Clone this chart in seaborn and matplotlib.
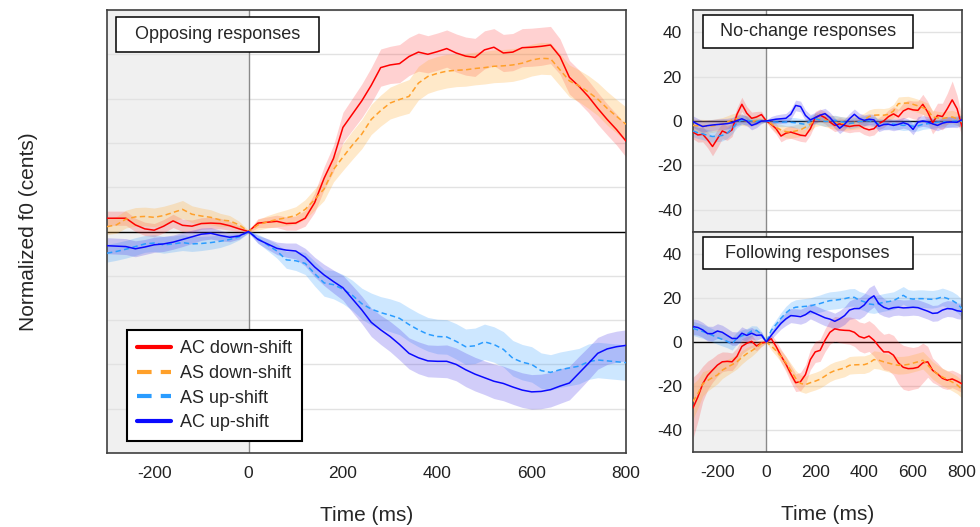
import matplotlib
matplotlib.use("Agg")
import matplotlib.pyplot as plt
from matplotlib.patches import Rectangle
from matplotlib.ticker import MultipleLocator
import seaborn as sns

sns.set_theme(style="white")
plt.rcParams['font.family'] = ['Liberation Sans', 'DejaVu Sans']
plt.rcParams['axes.unicode_minus'] = False

# Time axis (ms), one value every 20 ms
time_ms = list(range(-300, 801, 20))

# ---- Opposing responses ----
opp_ac_down = [3.0, 3.0, 3.0, 1.5, 0.6, 0.3, 1.2, 2.4, 1.4, 1.2, 1.8, 1.9, 1.8, 1.3, 0.6,
               0.0,
               1.9, 2.1, 2.3, 1.8, 1.9, 3.0, 6.5, 12.0, 16.5, 23.5, 26.5, 29.5, 33.0, 37.0, 37.6,
               37.9, 39.5, 40.5, 40.0, 40.6, 41.3, 40.3, 39.6, 39.3, 41.0, 41.6, 40.3, 40.5, 41.5,
               41.6, 41.8, 42.1, 39.5, 34.8, 32.8, 30.5, 27.8, 25.3, 23.0, 20.4]
opp_as_down = [1.1, 1.5, 2.8, 3.3, 3.4, 3.2, 3.6, 4.3, 5.0, 3.9, 3.5, 3.2, 2.6, 2.4, 1.5,
               0.0,
               1.5, 2.2, 2.7, 3.1, 3.6, 5.0, 7.2, 9.6, 14.0, 16.8, 19.5, 22.0, 25.3, 27.3, 29.0,
               29.8, 30.5, 33.5, 35.0, 35.7, 36.2, 36.4, 36.5, 36.8, 37.0, 37.3, 37.4, 37.6, 38.0,
               38.7, 39.1, 39.0, 36.5, 34.0, 32.9, 31.5, 29.9, 27.8, 26.0, 24.2]
opp_as_up = [-4.9, -4.5, -4.0, -3.4, -2.8, -2.6, -3.0, -2.8, -2.5, -2.8, -2.7, -2.5, -2.2, -1.8, -1.2,
             0.0,
             -1.6, -3.0, -4.4, -6.4, -6.6, -7.2, -9.5, -11.6, -12.0, -13.0, -14.4, -16.3, -17.5, -18.3,
             -18.9, -19.6, -21.0, -22.2, -23.2, -23.7, -23.8, -24.8, -26.0, -25.8, -24.9, -25.5, -26.6,
             -28.6, -29.5, -30.0, -31.4, -31.8, -31.2, -30.8, -30.4, -29.4, -29.0, -29.2, -29.4, -29.6]
opp_ac_up = [-3.2, -3.3, -3.4, -3.9, -3.5, -3.0, -2.8, -2.4, -1.8, -1.2, -0.6, -0.4, -0.9, -1.3, -1.0,
             0.0,
             -1.8, -2.8, -3.8, -4.2, -4.4, -5.8, -8.0, -9.8, -11.3, -12.7, -15.2, -17.7, -20.5, -22.2,
             -23.7, -25.5, -27.5, -28.5, -29.2, -29.3, -29.3, -30.0, -31.2, -32.2, -33.0, -33.8, -34.3,
             -35.1, -35.8, -36.2, -36.1, -35.7, -34.9, -34.2, -32.0, -29.8, -27.5, -26.5, -26.0, -25.7]

opp_ac_down_sem = [1.6, 1.6, 1.6, 1.5, 1.5, 1.5, 1.5, 1.5, 1.4, 1.4, 1.3, 1.3, 1.2, 1.0, 0.7,
                   0.3,
                   1.0, 1.2, 1.4, 1.5, 1.6, 1.8, 2.2, 2.6, 3.0, 3.4, 3.6, 3.8, 4.0, 4.2, 4.2,
                   4.3, 4.3, 4.3, 4.2, 4.2, 4.2, 4.3, 4.3, 4.3, 4.3, 4.2, 4.2, 4.2, 4.3, 4.3, 4.3, 4.2,
                   4.0, 3.8, 3.7, 3.6, 3.6, 3.5, 3.5, 3.6]
opp_as_down_sem = [1.8, 1.9, 2.0, 2.1, 2.1, 2.1, 2.1, 2.0, 2.0, 1.9, 1.8, 1.7, 1.5, 1.2, 0.8,
                   0.3,
                   1.2, 1.4, 1.6, 1.8, 2.0, 2.2, 2.4, 2.6, 2.8, 3.0, 3.2, 3.3, 3.4, 3.5, 3.6,
                   3.7, 3.8, 3.8, 3.8, 3.8, 3.8, 3.7, 3.7, 3.7, 3.7, 3.7, 3.7, 3.7, 3.6, 3.6, 3.6, 3.6,
                   3.6, 3.6, 3.6, 3.7, 3.7, 3.8, 3.8, 3.9]
opp_as_up_sem = [2.0, 2.0, 2.0, 2.0, 1.9, 1.9, 1.9, 1.8, 1.8, 1.7, 1.6, 1.5, 1.4, 1.1, 0.7,
                 0.3,
                 1.0, 1.3, 1.6, 1.9, 2.2, 2.5, 2.8, 3.0, 3.2, 3.3, 3.4, 3.5, 3.6, 3.6, 3.7,
                 3.7, 3.8, 3.8, 3.8, 3.9, 3.9, 4.0, 4.0, 4.0, 4.0, 4.0, 4.0, 4.0, 4.0, 4.0, 4.0, 4.0,
                 4.0, 4.0, 4.0, 4.0, 4.0, 4.0, 4.0, 4.0]
opp_ac_up_sem = [1.8, 1.8, 1.8, 1.8, 1.7, 1.7, 1.7, 1.6, 1.6, 1.5, 1.4, 1.3, 1.2, 1.0, 0.7,
                 0.3,
                 0.9, 1.2, 1.4, 1.6, 1.8, 2.0, 2.2, 2.4, 2.6, 2.8, 3.0, 3.1, 3.2, 3.3, 3.4,
                 3.5, 3.5, 3.6, 3.6, 3.6, 3.7, 3.7, 3.8, 3.8, 3.8, 3.9, 3.9, 3.9, 3.9, 3.9, 3.9, 3.9,
                 3.9, 3.8, 3.8, 3.7, 3.6, 3.5, 3.5, 3.5]

# ---- No-change responses ----
nc_ac_down = [-5.0, -6.3, -6.0, -8.5, -11.5, -8.0, -4.5, -5.5, -4.0, 3.0, 7.5, 3.5, 1.2, 1.8, 2.9,
              0.0,
              -1.5, -3.5, -6.8, -5.5, -5.0, -5.7, -6.4, -6.7, -3.5, 1.5, 2.6, 1.5, -0.5, -2.0, -1.3,
              -2.0, -2.5, -2.1, -2.0, -3.3, -4.0, -3.5, -1.2, 0.0, 2.0, 3.2, 1.9, 4.5, 5.6, 5.0,
              4.8, 7.5, 4.0, -0.8, 2.5, 2.0, 5.5, 9.5, 5.5, -2.5]
nc_as_down = [-2.0, -2.2, -2.3, -2.4, -2.2, -1.8, -1.3, -0.5, 0.5, 1.0, 0.5, 0.0, -0.3, 0.2, 0.3,
              0.0,
              -1.2, -3.0, -4.0, -4.8, -5.0, -4.5, -4.0, -2.8, -1.5, 0.5, 1.0, 0.5, -0.3, -0.6, -1.0,
              -1.2, -1.0, -0.7, -0.5, 0.5, 2.0, 2.6, 2.7, 2.6, 3.0, 4.5, 7.8, 8.0, 8.1, 7.5,
              6.8, 6.0, 5.0, 1.8, 1.4, 1.1, 1.5, 1.8, 1.0, -0.5]
nc_as_up = [-4.5, -5.3, -5.8, -6.5, -7.0, -6.8, -6.5, -5.5, -3.5, -0.8, 0.5, 0.3, 0.0, -0.2, 0.1,
            0.0,
            -0.3, -0.5, -0.6, -0.4, -0.6, -0.8, -1.2, -1.5, 0.2, 1.0, 0.5, -0.2, 0.0, 0.3, -0.2,
            -0.6, -1.1, -0.8, -0.3, 0.0, 0.2, -0.5, -1.2, -1.5, -1.3, -1.4, -1.6, -2.0, -1.8, -2.4,
            -2.2, -1.5, -1.2, -1.0, -0.6, -0.3, -0.5, -0.2, 0.0, 0.0]
nc_ac_up = [-0.3, -1.5, -2.5, -2.1, -1.8, -1.6, -1.4, -1.2, -0.8, 0.2, 1.0, 0.0, -2.0, -1.2, 0.0,
            0.0,
            0.4, 0.8, 1.0, 1.2, 3.0, 7.0, 6.5, 2.5, 0.5, 1.5, 2.6, 3.3, 1.5, -1.0, -3.3,
            -1.5, 1.0, 3.0, 1.1, 0.3, 0.8, 0.5, -2.4, -1.6, -1.5, -2.0, -1.5, -0.8, -1.5, -3.8,
            -0.5, 0.0, -0.4, -1.3, -2.0, -1.0, -0.5, -0.5, -0.6, 0.6]

nc_ac_down_sem = [3.0, 3.2, 3.4, 3.6, 4.2, 4.0, 3.5, 3.2, 3.0, 3.0, 3.2, 3.0, 2.8, 2.5, 1.5,
                  0.5,
                  2.0, 2.4, 2.6, 2.7, 2.8, 2.8, 2.8, 2.8, 2.8, 2.8, 2.8, 2.8, 2.8, 2.8, 2.8,
                  2.8, 2.8, 2.8, 2.8, 2.8, 2.8, 2.8, 2.8, 2.9, 3.0, 3.2, 3.4, 3.6, 3.8, 4.0, 4.2, 4.5,
                  4.8, 5.0, 5.5, 6.0, 7.0, 8.5, 6.0, 4.0]
nc_as_down_sem = [3.0, 3.0, 3.0, 3.0, 2.9, 2.9, 2.8, 2.8, 2.7, 2.6, 2.5, 2.3, 2.1, 1.8, 1.2,
                  0.4,
                  1.8, 2.2, 2.5, 2.7, 2.8, 2.9, 3.0, 3.0, 3.0, 3.0, 3.0, 3.0, 3.0, 3.0, 3.0,
                  3.0, 3.0, 3.0, 3.0, 3.0, 3.0, 3.0, 3.0, 3.0, 3.0, 3.0, 3.0, 3.0, 3.0, 3.0, 3.0, 3.0,
                  3.0, 3.0, 3.0, 3.0, 3.0, 3.0, 3.0, 3.0]
nc_as_up_sem = [2.6, 2.6, 2.6, 2.6, 2.6, 2.5, 2.5, 2.4, 2.3, 2.2, 2.1, 2.0, 1.8, 1.5, 1.0,
                0.4,
                1.5, 1.8, 2.0, 2.1, 2.2, 2.3, 2.3, 2.3, 2.3, 2.3, 2.3, 2.3, 2.3, 2.3, 2.3,
                2.3, 2.3, 2.3, 2.3, 2.3, 2.3, 2.3, 2.3, 2.3, 2.3, 2.3, 2.3, 2.3, 2.3, 2.3, 2.3, 2.3,
                2.3, 2.3, 2.3, 2.3, 2.3, 2.3, 2.3, 2.3]
nc_ac_up_sem = [2.6, 2.6, 2.6, 2.5, 2.5, 2.5, 2.5, 2.4, 2.4, 2.3, 2.2, 2.1, 2.0, 1.8, 1.2,
                0.4,
                1.6, 1.9, 2.1, 2.2, 2.3, 2.4, 2.4, 2.4, 2.4, 2.4, 2.4, 2.4, 2.4, 2.4, 2.4,
                2.4, 2.4, 2.4, 2.4, 2.4, 2.4, 2.4, 2.4, 2.4, 2.4, 2.4, 2.4, 2.4, 2.4, 2.4, 2.4, 2.4,
                2.4, 2.4, 2.4, 2.4, 2.4, 2.4, 2.4, 2.4]

# ---- Following responses ----
fol_ac_down = [-30.0, -25.0, -19.0, -15.2, -12.8, -10.5, -9.0, -8.8, -9.0, -6.5, -2.0, -0.6, 0.3, -1.8, -0.5,
               0.0,
               1.5, -2.0, -6.3, -10.0, -14.5, -18.5, -18.0, -14.8, -8.0, -4.5, -3.8, 0.8, 4.4, 6.0, 5.5,
               5.3, 5.2, 4.4, 2.5, 1.8, 2.7, 0.8, -2.0, -4.5, -4.5, -6.0, -9.5, -11.5, -12.1, -12.0,
               -11.5, -9.5, -9.0, -12.9, -14.5, -16.5, -17.4, -16.8, -17.8, -19.0]
fol_as_down = [-27.0, -23.5, -19.0, -17.5, -16.2, -15.0, -12.8, -11.5, -10.3, -9.0, -7.0, -5.3, -4.0, -2.5, -0.7,
               0.0,
               -1.8, -4.0, -6.5, -9.5, -13.0, -16.5, -18.8, -19.4, -18.5, -17.8, -16.9, -15.5, -14.0, -13.0,
               -12.4, -11.8, -10.6, -10.4, -10.3, -10.3, -9.6, -8.0, -8.3, -9.0, -9.6, -10.2, -10.6, -10.5,
               -10.2, -9.6, -9.0, -8.3, -10.5, -12.9, -14.5, -15.9, -17.0, -18.2, -19.5, -21.5]
fol_as_up = [6.2, 5.5, 4.8, 4.0, 3.0, 2.0, 1.2, 0.3, -0.8, 1.8, 2.8, 3.5, 5.0, 5.3, 3.5,
             0.0,
             5.3, 8.0, 10.8, 13.2, 15.0, 15.8, 16.0, 16.2, 16.4, 17.0, 17.5, 18.2, 18.8, 19.0, 19.3,
             19.7, 20.2, 20.3, 19.0, 18.3, 17.3, 17.0, 17.5, 18.0, 18.4, 18.8, 20.0, 21.2, 19.8, 19.5,
             19.7, 19.7, 19.5, 19.4, 19.8, 20.5, 19.8, 18.9, 17.5, 15.2]
fol_ac_up = [7.0, 6.6, 5.5, 3.8, 3.8, 5.0, 4.4, 3.0, 1.6, 1.6, 4.0, 3.0, 4.0, 3.0, 3.2,
             0.0,
             3.0, 5.8, 8.5, 10.5, 12.0, 11.8, 11.5, 12.4, 14.0, 13.0, 12.0, 11.0, 10.4, 9.4, 10.5,
             12.0, 14.5, 15.2, 15.2, 16.8, 19.5, 21.0, 17.4, 15.8, 15.0, 15.6, 15.8, 15.5, 15.6, 15.8,
             15.6, 14.8, 14.0, 13.0, 13.2, 14.5, 15.2, 15.0, 14.2, 13.9]

fol_ac_down_sem = [14.0, 11.0, 8.0, 6.5, 5.5, 5.0, 4.5, 4.2, 4.0, 3.8, 3.5, 3.2, 2.8, 2.2, 1.5,
                   0.5,
                   2.0, 2.5, 3.0, 3.4, 3.8, 4.0, 4.2, 4.4, 4.6, 4.8, 5.0, 5.2, 5.4, 5.6, 5.8,
                   6.0, 6.2, 6.4, 6.6, 6.8, 7.0, 7.2, 7.5, 8.0, 8.5, 9.0, 9.5, 10.0, 10.0, 9.5, 9.5, 9.0,
                   7.0, 5.5, 5.0, 4.5, 4.2, 4.0, 4.0, 4.0]
fol_as_down_sem = [8.0, 6.5, 5.5, 4.8, 4.4, 4.0, 3.8, 3.6, 3.4, 3.2, 3.0, 2.8, 2.5, 2.0, 1.3,
                   0.4,
                   1.8, 2.2, 2.6, 3.0, 3.3, 3.6, 3.8, 3.9, 4.0, 4.0, 4.0, 4.0, 4.0, 4.0, 4.0,
                   4.0, 4.0, 4.0, 4.0, 4.0, 4.0, 4.0, 4.0, 4.0, 4.0, 4.0, 4.0, 4.0, 4.0, 4.0, 4.0, 4.0,
                   4.0, 4.0, 4.0, 4.0, 4.0, 4.0, 4.0, 4.0]
fol_as_up_sem = [3.2, 3.2, 3.1, 3.1, 3.0, 3.0, 3.0, 2.9, 2.9, 2.8, 2.7, 2.6, 2.4, 2.0, 1.3,
                 0.4,
                 1.8, 2.2, 2.6, 3.0, 3.2, 3.4, 3.5, 3.6, 3.7, 3.8, 3.9, 4.0, 4.0, 4.0, 4.0,
                 4.0, 4.0, 4.0, 4.0, 4.0, 4.0, 4.0, 4.0, 4.0, 4.0, 4.0, 4.0, 4.0, 4.0, 4.0, 4.0, 4.0,
                 4.0, 4.0, 4.0, 4.0, 4.0, 4.0, 4.0, 4.0]
fol_ac_up_sem = [3.5, 3.5, 3.4, 3.4, 3.3, 3.3, 3.2, 3.2, 3.1, 3.0, 2.9, 2.8, 2.6, 2.2, 1.4,
                 0.4,
                 1.8, 2.2, 2.6, 3.0, 3.2, 3.3, 3.4, 3.5, 3.5, 3.5, 3.6, 3.6, 3.6, 3.7, 3.8,
                 4.0, 4.2, 4.5, 4.8, 5.0, 5.2, 5.0, 4.5, 4.0, 3.8, 3.6, 3.6, 3.6, 3.6, 3.6, 3.6, 3.6,
                 3.6, 3.6, 3.6, 3.6, 3.6, 3.6, 3.6, 3.6]

labels = ["AC down-shift", "AS down-shift", "AS up-shift", "AC up-shift"]
line_colors = ["#ff0000", "#ffa02a", "#2a9cff", "#0a0aff"]
band_colors = ["#ff3030", "#ffb040", "#3aa0ff", "#4a3ae8"]
band_alpha = [0.22, 0.28, 0.25, 0.25]
dashed = [False, True, True, False]


def draw_panel(ax, series, sems, title, with_legend=False):
    ax.axvspan(-300, 0, color="#f0f0f0", zorder=0.2, lw=0)
    ax.axvline(0, color="#8a8a8a", lw=1.0, zorder=1)
    ax.axhline(0, color="black", lw=1.0, zorder=1)
    for i in range(4):
        lo = [m - s for m, s in zip(series[i], sems[i])]
        hi = [m + s for m, s in zip(series[i], sems[i])]
        ax.fill_between(time_ms, lo, hi, color=band_colors[i], alpha=band_alpha[i],
                        lw=0, zorder=2)
    for i in range(4):
        sns.lineplot(x=time_ms, y=series[i], ax=ax, color=line_colors[i], lw=1.1,
                     label=labels[i] if with_legend else None, zorder=3)
        if dashed[i]:
            ax.lines[-1].set_dashes((3.5, 2.2))
    ax.set_xlim(-300, 800)
    ax.set_ylim(-50, 50)
    ax.set_axisbelow(True)
    ax.yaxis.grid(True, color="#e2e2e2", lw=1.0)
    ax.xaxis.grid(False)
    for sp in ax.spines.values():
        sp.set_color("#404040")
        sp.set_linewidth(1.2)
    ax.tick_params(direction="in", length=4, width=0.9, color="#404040",
                   labelsize=12.5, labelcolor="#222222", pad=9)
    ax.tick_params(which="minor", direction="in", length=4, width=0.9, color="#404040")
    ax.xaxis.set_major_locator(MultipleLocator(200))
    ax.set_xlabel("")
    ax.set_ylabel("")
    ax.add_patch(Rectangle(title[1], title[2], title[3], transform=ax.transAxes,
                           facecolor="white", edgecolor="black", lw=1.1, zorder=5))
    ax.text(title[1][0] + title[2] / 2, title[1][1] + title[3] / 2, title[0],
            transform=ax.transAxes, ha="center", va="center", fontsize=13, zorder=6)


fig = plt.figure(figsize=(9.8, 5.27), dpi=100)
ax_l = fig.add_axes([0.1092, 0.1404, 0.5296, 0.8406])
ax_t = fig.add_axes([0.7071, 0.5598, 0.2745, 0.4213])
ax_b = fig.add_axes([0.7071, 0.1423, 0.2745, 0.4175])

draw_panel(ax_l, [opp_ac_down, opp_as_down, opp_as_up, opp_ac_up],
           [opp_ac_down_sem, opp_as_down_sem, opp_as_up_sem, opp_ac_up_sem],
           ("Opposing responses", (0.017, 0.905), 0.391, 0.079), with_legend=True)
draw_panel(ax_t, [nc_ac_down, nc_as_down, nc_as_up, nc_ac_up],
           [nc_ac_down_sem, nc_as_down_sem, nc_as_up_sem, nc_ac_up_sem],
           ("No-change responses", (0.036, 0.829), 0.781, 0.148))
draw_panel(ax_b, [fol_ac_down, fol_as_down, fol_as_up, fol_ac_up],
           [fol_ac_down_sem, fol_as_down_sem, fol_as_up_sem, fol_ac_up_sem],
           ("Following responses", (0.036, 0.830), 0.781, 0.146))

# left panel: y ticks every 10 without labels, minor x ticks every 100
ax_l.yaxis.set_major_locator(MultipleLocator(10))
ax_l.tick_params(axis="y", labelleft=False)
ax_l.xaxis.set_minor_locator(MultipleLocator(100))
ax_l.set_ylabel("Normalized f0 (cents)", fontsize=15, labelpad=50)
ax_l.set_xlabel("Time (ms)", fontsize=15, labelpad=18)

for ax in (ax_t, ax_b):
    ax.yaxis.set_major_locator(MultipleLocator(20))
    ax.tick_params(axis="y", pad=8)
ax_t.tick_params(axis="x", labelbottom=False)
ax_b.set_xlabel("Time (ms)", fontsize=15, labelpad=18)

leg = ax_l.legend(loc="lower left", bbox_to_anchor=(0.038, 0.027), fontsize=13,
                  frameon=True, fancybox=False, framealpha=1, edgecolor="black",
                  handlelength=1.9, handletextpad=0.5, labelspacing=0.42,
                  borderpad=0.55, borderaxespad=0)
leg.get_frame().set_linewidth(1.5)
leg.set_zorder(7)
for h in leg.get_lines():
    h.set_linewidth(3)

fig.savefig("out.png", dpi=100)
